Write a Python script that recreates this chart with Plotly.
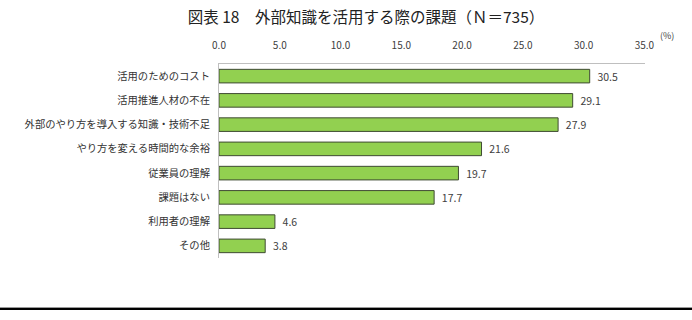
import plotly.graph_objects as go

categories = ["活用のためのコスト", "活用推進人材の不在", "外部のやり方を導入する知識・技術不足",
              "やり方を変える時間的な余裕", "従業員の理解", "課題はない", "利用者の理解", "その他"]
values = [30.5, 29.1, 27.9, 21.6, 19.7, 17.7, 4.6, 3.8]
tick_vals = [0, 5, 10, 15, 20, 25, 30, 35]
tick_text = ["0.0", "5.0", "10.0", "15.0", "20.0", "25.0", "30.0", "35.0"]

FONT = "Noto Sans CJK JP"
W, H = 692, 320
L, R, T, B = 219, 47, 64, 62

fig = go.Figure(go.Bar(
    x=values, y=categories, orientation="h",
    marker=dict(color="#92D050", line=dict(color="#3F4A33", width=1)),
    width=0.56,
    text=["  " + f"{v:.1f}" for v in values], textposition="outside",
    constraintext="none",
    textfont=dict(family=FONT, size=10.5, color="#404040"),
    cliponaxis=False,
))

fig.update_layout(
    width=W, height=H,
    margin=dict(l=L, r=R, t=T, b=B),
    paper_bgcolor="white", plot_bgcolor="white",
    showlegend=False,
    font=dict(family=FONT, color="#404040"),
    title=dict(text="図表 18　外部知識を活用する際の課題（Ｎ＝735）",
               x=366 / W, xref="container", xanchor="center",
               y=1 - 18 / H, yref="container", yanchor="middle",
               font=dict(family=FONT, size=15.5, color="#222222")),
    xaxis=dict(side="top", range=[0, 35.05], tickvals=tick_vals, ticktext=tick_text,
               showgrid=False, zeroline=False, showline=True, linecolor="#BFBFBF",
               ticks="", ticklabelstandoff=10,
               tickfont=dict(family=FONT, size=10, color="#404040")),
    yaxis=dict(autorange="reversed", showgrid=False, showline=True, linecolor="#BFBFBF",
               ticks="", ticklabelstandoff=6,
               tickfont=dict(family=FONT, size=10.3, color="#333333")),
    bargap=0.44,
)

ph = H - T - B
pw = W - L - R
fig.add_annotation(text="(%)", x=(667 - L) / pw, xref="x domain", xanchor="center",
                   y=1 + (T - 35) / ph, yref="y domain", yanchor="middle", showarrow=False,
                   font=dict(family=FONT, size=9, color="#404040"))

ybot = (H - B - 309) / ph
fig.add_shape(type="line", xref="x domain", yref="y domain",
              x0=-L / pw, x1=(W - L) / pw, y0=ybot, y1=ybot,
              line=dict(color="#000000", width=2))
fig.add_shape(type="line", xref="x domain", yref="y domain",
              x0=-L / pw, x1=(W - L) / pw, y0=ybot + 1.5 / ph, y1=ybot + 1.5 / ph,
              line=dict(color="#999999", width=1))

fig.write_html("out.html")
